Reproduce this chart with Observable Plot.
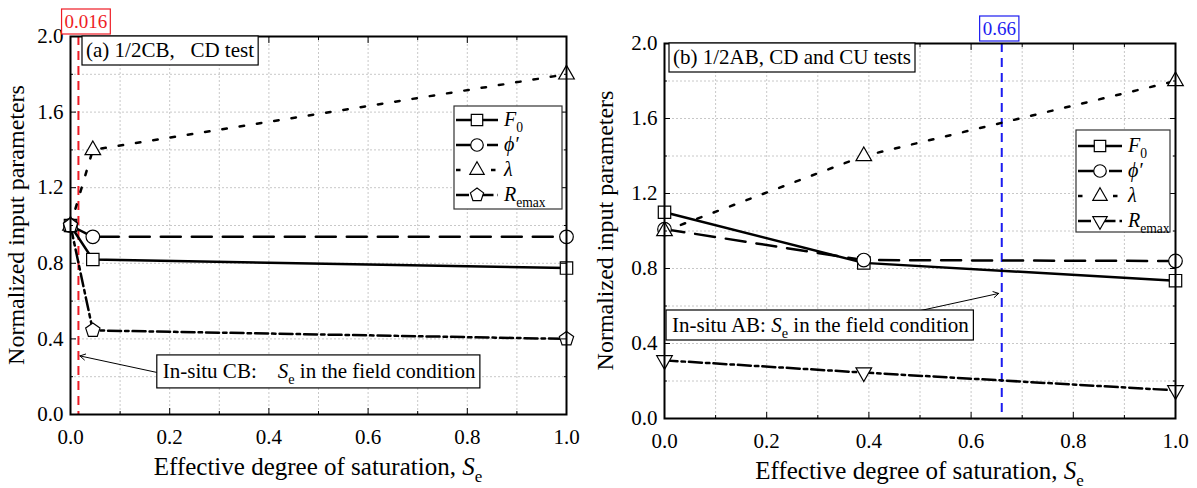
<!DOCTYPE html>
<html><head><meta charset="utf-8">
<script src="https://cdn.jsdelivr.net/npm/d3@7"></script>
<script src="https://cdn.jsdelivr.net/npm/@observablehq/plot@0.6"></script>
<style>
body{margin:0;background:#fff;}
#wrap{position:relative;width:1197px;height:488px;background:#fff;}
#wrap svg{position:absolute;top:0;overflow:visible;background:transparent;}
#wrap svg, #wrap svg text, #wrap svg tspan{font-family:"Liberation Serif","DejaVu Serif",serif !important;}
</style></head><body><div id="wrap"></div>
<script>
// ---------- data ----------
const seA  = [0, 0.045, 1.0];
const f0A  = [1.0, 0.82, 0.775];
const phiA = [1.0, 0.94, 0.94];
const lamA = [1.0, 1.40, 1.80];
const remA = [1.0, 0.445, 0.40];

const seB  = [0, 0.39, 1.0];
const f0B  = [1.10, 0.83, 0.735];
const phiB = [1.01, 0.845, 0.84];
const lamB = [1.0, 1.40, 1.80];
const remB = [0.31, 0.245, 0.15];

const fieldSeA = 0.016;
const fieldSeB = 0.66;

const xTicks = [0, 0.2, 0.4, 0.6, 0.8, 1.0];
const xMinor = [0.1, 0.3, 0.5, 0.7, 0.9];
const yTicks = [0, 0.4, 0.8, 1.2, 1.6, 2.0];
const yMinor = [0.2, 0.6, 1.0, 1.4, 1.8];

const FONT = "Liberation Serif, DejaVu Serif, serif";

// ---------- custom symbols ----------
const triUp = {draw(ctx, size){const r=Math.sqrt(size/Math.PI); ctx.moveTo(0,-r*1.15); ctx.lineTo(r*1.0,r*0.6); ctx.lineTo(-r*1.0,r*0.6); ctx.closePath();}};
const triDown = {draw(ctx, size){const r=Math.sqrt(size/Math.PI); ctx.moveTo(0,r*1.15); ctx.lineTo(r*1.0,-r*0.6); ctx.lineTo(-r*1.0,-r*0.6); ctx.closePath();}};
const pentagon = {draw(ctx, size){const r=Math.sqrt(size/Math.PI); for(let i=0;i<5;i++){const a=-Math.PI/2+i*2*Math.PI/5; const px=r*Math.cos(a), py=r*Math.sin(a); if(i) ctx.lineTo(px,py); else ctx.moveTo(px,py);} ctx.closePath();}};
const symMap = {square: d3.symbolSquare, circle: d3.symbolCircle};

function seriesDefs(cfg){
  return [
    {label:[{t:"F",i:1},{t:"0",sub:1}], ys:cfg.f0, dash:null, symbol:"square", r:7},
    {label:[{t:"ϕ′",i:1}], ys:cfg.phi, dash:"20,11", symbol:"circle", r:6.8},
    {label:[{t:"λ",i:1}], ys:cfg.lam, dash:"4.5,13", symbol:triUp, r:7.8},
    {label:[{t:"R",i:1},{t:"emax",sub:1}], ys:cfg.rem, dash:"13,4,3.5,4", symbol:cfg.remSymbol, r:cfg.remR}
  ];
}

function richText(g, parts, fs){
  const t = g.append("text").attr("font-size", fs).attr("text-anchor","start").style("white-space","pre");
  let shift = 0;
  for (const p of parts){
    const s = t.append("tspan").text(p.t);
    if (p.i) s.attr("font-style","italic");
    const target = p.sub ? 0.28*fs : 0;
    if (target !== shift){ s.attr("dy", target-shift); shift = target; }
    if (p.sub) s.attr("font-size", fs*0.68);
  }
  return t;
}
function boxed(g, x, yTop, h, padL, padR, parts, fs, color){
  const grp = g.append("g");
  const rect = grp.append("rect");
  const t = richText(grp, parts, fs).attr("x", x+padL).attr("y", yTop + h/2 + fs*0.33).attr("fill", color);
  const bb = t.node().getBBox();
  rect.attr("x", x).attr("y", yTop).attr("width", bb.width+padL+padR).attr("height", h)
      .attr("fill","white").attr("stroke", color).attr("stroke-width",1.2);
  return bb;
}

function panel(cfg){
  const S = seriesDefs(cfg);
  const rows = ys => cfg.se.map((x,i)=>({x, y: ys[i]}));
  const gridStyle = {stroke:"#c8c8c8", strokeOpacity:1, strokeDasharray:"2,2"};
  const svg = Plot.plot({
    width: cfg.width, height: 488,
    marginLeft: cfg.ml, marginRight: cfg.mr, marginTop: cfg.mt, marginBottom: cfg.mb,
    x: {domain:[0,1]}, y: {domain:[0,2]},
    style: {fontFamily: FONT, color:"black", background:"transparent", overflow:"visible"},
    marks: [
      Plot.gridX(xTicks.concat(xMinor), gridStyle),
      Plot.gridY(yTicks.concat(yMinor), gridStyle),
      Plot.ruleX([cfg.field], {stroke: cfg.fieldColor, strokeWidth: 2, strokeDasharray:"9,6"}),
      ...S.map(s => Plot.line(rows(s.ys), {x:"x", y:"y", stroke:"black", strokeWidth:2.5, strokeDasharray:s.dash})),
      ...S.map(s => Plot.dot(rows(s.ys), {x:"x", y:"y", symbol:s.symbol, r:s.r, fill:"white", stroke:"black", strokeWidth:1.2})),
      Plot.arrow([cfg.arrow], {x1:"x1", y1:"y1", x2:"x2", y2:"y2", stroke:"black", strokeWidth:1, headLength:9}),
      Plot.frame({stroke:"black", strokeWidth:2}),
      Plot.axisX(xTicks, {anchor:"bottom", tickSize:-6, tickPadding:21, tickFormat:d3.format(".1f"), fontSize:21, label:null, color:"black"}),
      Plot.axisX(xMinor, {anchor:"bottom", tickSize:-3, fill:"none", label:null, color:"black"}),
      Plot.axisX(xTicks, {anchor:"top", tickSize:-6, fill:"none", label:null, color:"black"}),
      Plot.axisX(xMinor, {anchor:"top", tickSize:-3, fill:"none", label:null, color:"black"}),
      Plot.axisY(yTicks, {anchor:"left", tickSize:-6, tickPadding:13, tickFormat:d3.format(".1f"), fontSize:21, label:null, color:"black"}),
      Plot.axisY(yMinor, {anchor:"left", tickSize:-3, fill:"none", label:null, color:"black"}),
      Plot.axisY(yTicks, {anchor:"right", tickSize:-6, fill:"none", label:null, color:"black"}),
      Plot.axisY(yMinor, {anchor:"right", tickSize:-3, fill:"none", label:null, color:"black"})
    ]
  });
  svg.style.left = cfg.left + "px";
  document.getElementById("wrap").appendChild(svg);

  // ---------- decorations (positioned with the plot's scales) ----------
  const xs = svg.scale("x"), ys = svg.scale("y");
  const X0 = xs.apply(0), X1 = xs.apply(1), Yb = ys.apply(0), Yt = ys.apply(2);
  const g = d3.select(svg).append("g").attr("font-family", FONT).attr("fill","black").attr("text-anchor","start");

  // axis titles
  richText(g, [{t:"Effective degree of saturation, "},{t:"S",i:1},{t:"e",sub:1}], 25)
    .attr("x", (X0+X1)/2).attr("y", Yb+61).attr("text-anchor","middle");
  richText(g, [{t:"Normalized input parameters"}], 24)
    .attr("text-anchor","middle")
    .attr("transform", `translate(${X0-cfg.ytitleOff},${(Yb+Yt)/2}) rotate(-90)`);

  // panel label
  boxed(g, X0+cfg.labelDx, Yt, 29, 4, 4, cfg.title, 21, "black");

  // field value label above the dashed line
  const fx = xs.apply(cfg.field);
  const tmp = richText(g, [{t:cfg.fieldText}], 19);
  const w = tmp.node().getBBox().width; tmp.remove();
  boxed(g, fx - (w+6)/2 + cfg.fieldDx, Yt-27, 25, 3, 3, [{t:cfg.fieldText}], 19, cfg.fieldColor);

  // annotation box
  boxed(g, xs.apply(cfg.note.x), ys.apply(cfg.note.y), cfg.note.h, 6, 4, cfg.note.parts, 21, "black");

  // legend
  const L = cfg.legend;
  const lx = X1 - L.dxRight - L.w, ly = Yt + L.dyTop;
  g.append("rect").attr("x", lx).attr("y", ly).attr("width", L.w).attr("height", L.h)
    .attr("fill","white").attr("stroke","#333").attr("stroke-width",1.2);
  S.forEach((s,i)=>{
    const yy = ly + L.first + i*25;
    g.append("line").attr("x1", lx+2).attr("x2", lx+2+L.sample).attr("y1", yy).attr("y2", yy)
      .attr("stroke","black").attr("stroke-width",2.5).attr("stroke-dasharray", s.dash);
    const type = typeof s.symbol === "string" ? symMap[s.symbol] : s.symbol;
    g.append("path").attr("d", d3.symbol(type, Math.PI*s.r*s.r*0.85)())
      .attr("transform", `translate(${lx+2+L.sample/2},${yy})`)
      .attr("fill","white").attr("stroke","black").attr("stroke-width",1.2);
    richText(g, s.label, 20).attr("x", lx+L.sample+8).attr("y", yy+6);
  });
}

panel({
  se: seA, f0: f0A, phi: phiA, lam: lamA, rem: remA, remSymbol: pentagon, remR: 7.5,
  left: 0, width: 598, ml: 70, mr: 32, mt: 36, mb: 74,
  field: fieldSeA, fieldColor: "#ee1c25", fieldText: "0.016", fieldDx: 8,
  title: [{t:"(a) 1/2CB,   CD test"}], labelDx: 12, ytitleOff: 46,
  arrow: {x1: 0.175, y1: 0.222, x2: 0.019, y2: 0.31},
  note: {x: 0.175, y: 0.3126, h: 33, parts: [{t:"In-situ CB:    "},{t:"S",i:1},{t:"e",sub:1},{t:" in the field condition"}]},
  legend: {w: 108, h: 103, dxRight: 4, dyTop: 70, first: 14, sample: 42}
});
panel({
  se: seB, f0: f0B, phi: phiB, lam: lamB, rem: remB, remSymbol: triDown, remR: 7.8,
  left: 598, width: 599, ml: 66, mr: 22, mt: 43, mb: 70,
  field: fieldSeB, fieldColor: "#1c1cf0", fieldText: "0.66", fieldDx: -2,
  title: [{t:"(b) 1/2AB, CD and CU tests"}], labelDx: 5, ytitleOff: 51,
  arrow: {x1: 0.493, y1: 0.571, x2: 0.654, y2: 0.667},
  note: {x: 0.004, y: 0.576, h: 30, parts: [{t:"In-situ AB: "},{t:"S",i:1},{t:"e",sub:1},{t:" in the field condition"}]},
  legend: {w: 94, h: 102, dxRight: 5, dyTop: 87, first: 16, sample: 44}
});
</script></body></html>
